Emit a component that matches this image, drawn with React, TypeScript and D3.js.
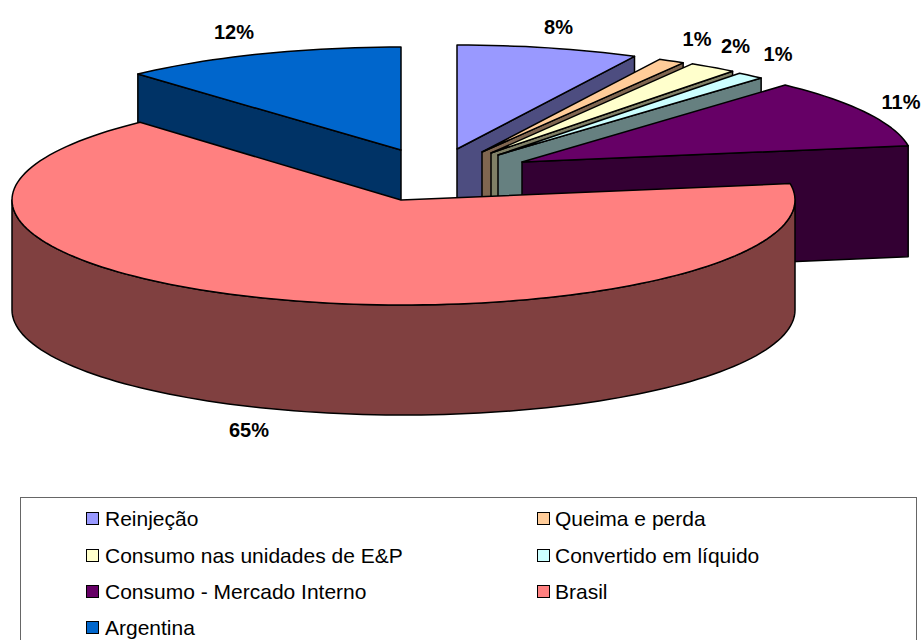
import React from "react";
import * as d3 from "d3";

const categories = ["Reinjeção", "Queima e perda", "Consumo nas unidades de E&P", "Convertido em líquido", "Consumo - Mercado Interno", "Brasil", "Argentina"];
const shares = [7.5, 1.1, 2.0, 1.15, 10.75, 65.75, 11.75];
const percentLabels = ["8%", "1%", "2%", "1%", "11%", "65%", "12%"];
const topColors = ["#9999FF", "#FFCC99", "#FFFFCC", "#CCFFFF", "#660066", "#FF8080", "#0066CC"];
const wallColors = ["#4D4D80", "#806650", "#808066", "#668080", "#330033", "#804040", "#003366"];

// layout of the exploded 3D pie, separate from the values
const W = 922, H = 640;
const RX = 391, RY = 104, DEPTH = 111;
const vertices: [number, number][] = [[457, 149], [482, 152], [491, 153], [498, 155], [522, 162], [401, 200], [401, 150]];
const arcCentres: [number, number][] = [[457, 149], [482, 152], [491, 153], [498, 155], [522, 162], [403.5, 200], [401, 151]];
const labelPos: [number, number][] = [[558.5, 27], [697, 39], [735.5, 46], [778, 54], [901, 102], [249, 430], [234, 32]];
const FONT = "'Liberation Sans', Arial, sans-serif";
const drawOrder = [0, 1, 2, 3, 4, 6, 5];

const pie = d3.pie<number>().sort(null).startAngle(0).endAngle(2 * Math.PI);
const arcs = pie(shares);
const line = d3.line();

function pt(i: number, a: number): [number, number] {
  const [cx, cy] = arcCentres[i];
  const r = i === 5 ? RX + 0.5 : RX;
  const ry = i === 5 ? RY + 1 : RY;
  return [cx + r * Math.sin(a), cy - ry * Math.cos(a)];
}
function arcPts(i: number, a0: number, a1: number): [number, number][] {
  const n = Math.max(2, Math.ceil(Math.abs(a1 - a0) / 0.03));
  return d3.range(n + 1).map((k) => pt(i, a0 + ((a1 - a0) * k) / n));
}
const drop = (p: [number, number], i: number): [number, number] => [p[0], p[1] + (i === 5 ? DEPTH - 1 : DEPTH)];

function Slice({ i }: { i: number }) {
  const { startAngle: s, endAngle: e } = arcs[i];
  const v = vertices[i];
  const stroke = { stroke: "#000", strokeWidth: 1.5, strokeLinejoin: "round" as const };
  const parts: React.ReactNode[] = [];
  // radial wall: right-hand slices show their end face, left-hand ones their start face
  if (e <= Math.PI) {
    const p = pt(i, e);
    parts.push(<path key="r" d={line([v, p, drop(p, i), drop(v, i)]) + "Z"} fill={wallColors[i]} {...stroke} />);
  } else if (s >= Math.PI) {
    const p = pt(i, s);
    parts.push(<path key="r" d={line([v, p, drop(p, i), drop(v, i)]) + "Z"} fill={wallColors[i]} {...stroke} />);
  }
  // outer curved wall, for the front half of the ellipse
  const f0 = Math.max(s, Math.PI / 2), f1 = Math.min(e, (3 * Math.PI) / 2);
  if (f1 > f0) {
    const top = arcPts(i, f0, f1);
    const bottom = top.map((p) => drop(p, i)).reverse();
    parts.push(<path key="o" d={line([...top, ...bottom]) + "Z"} fill={wallColors[i]} {...stroke} />);
  }
  parts.push(<path key="t" d={line([v, ...arcPts(i, s, e)]) + "Z"} fill={topColors[i]} {...stroke} />);
  return <g>{parts}</g>;
}

const legendCols = [86, 537];
const legendRows = [518, 555, 591, 627];

export default function App() {
  return (
    <svg width={W} height={H} style={{ position: "absolute", left: 0, top: 0, background: "#fff" }} fontFamily={FONT}>
      {drawOrder.map((i) => <Slice key={i} i={i} />)}
      {percentLabels.map((t, i) => (
        <text key={i} x={labelPos[i][0]} y={labelPos[i][1]} textAnchor="middle" dominantBaseline="central" fontSize={20} fontWeight="bold" fill="#000">{t}</text>
      ))}
      <rect x={20.5} y={497.5} width={896} height={160} fill="none" stroke="#666" strokeWidth={1} />
      {categories.map((c, i) => {
        const x = legendCols[i % 2], y = legendRows[Math.floor(i / 2)];
        return (
          <g key={c}>
            <rect x={x + 0.5} y={y - 5.5} width={12} height={12} fill={topColors[i]} stroke="#000" strokeWidth={1} />
            <text x={x + (i % 2 ? 18 : 19)} y={y} dominantBaseline="central" fontSize={21} fill="#000">{c}</text>
          </g>
        );
      })}
    </svg>
  );
}
